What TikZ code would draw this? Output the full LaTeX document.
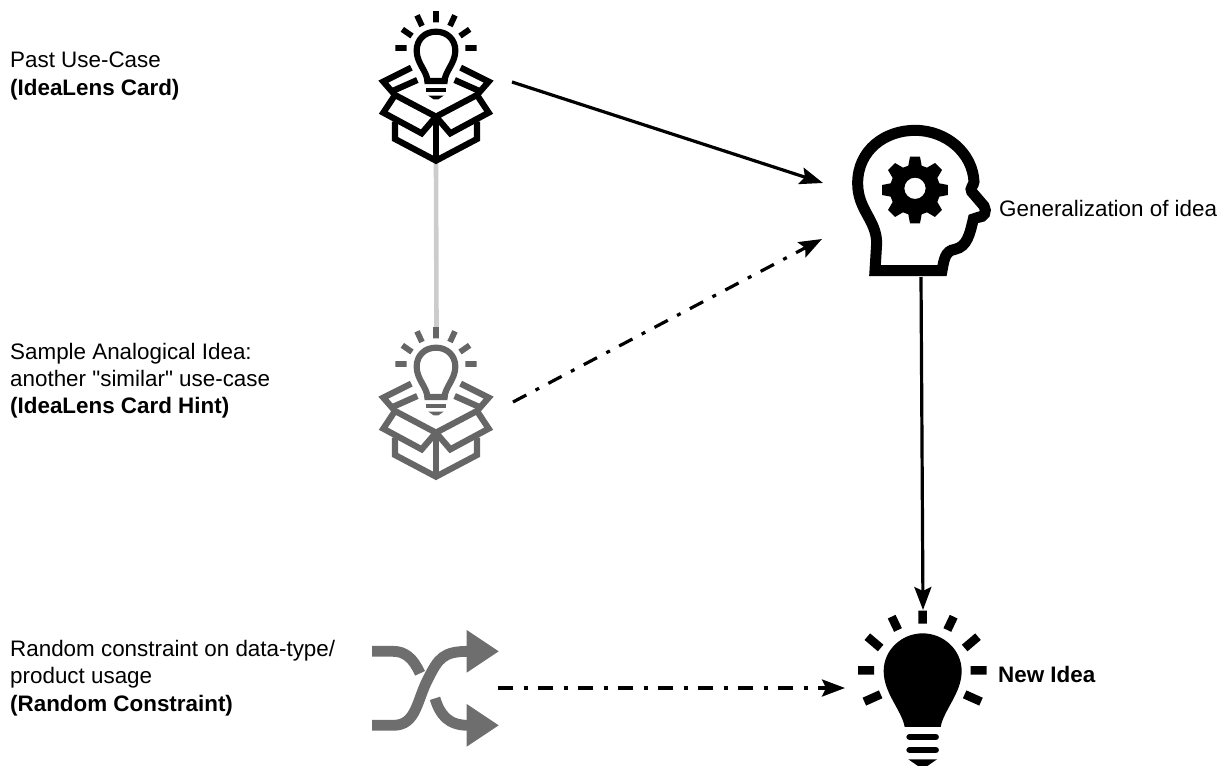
\documentclass[tikz,border=0pt]{standalone}
\usepackage{fontspec}
\setmainfont{Liberation Sans}[Ligatures=TeXOff]
\usetikzlibrary{arrows.meta}
\tikzset{
  x=1pt,y=-1pt,
  anchorbox/.style={inner sep=0pt,outer sep=0pt,minimum width=#1},
  label text/.style={anchor=west,inner sep=0pt,align=left,font=\fontsize{22.4}{27.2}\selectfont},
  flow/.style={line width=3.2pt,-{Stealth[length=23pt,width=17pt,inset=4pt]}},
  dashflow/.style={flow,dash pattern=on 15pt off 10.5pt on 4pt off 10.5pt},
  link/.style={line width=4.6pt,color=linkgrey},
  ray/.style={line width=5.8pt},
  pics/ideabox/.style={code={
    \begin{scope}[x=.3333pt,y=-.3333pt,color=#1,line width=6.2pt,miter limit=8]
      % rays
      \draw[ray] (288,33)--(288,67) (231,46)--(246,78) (345,46)--(330,78)
        (187,88)--(216,108) (389,88)--(360,108) (166,144)--(200,144) (376,144)--(410,144);
      % bulb
      \draw (262,243) .. controls (262,215) and (230,190) .. (230,152)
        .. controls (230,118) and (255,95) .. (288,95)
        .. controls (321,95) and (346,118) .. (346,152)
        .. controls (346,190) and (314,215) .. (314,243) -- cycle;
      \draw[line width=3.6pt] (258,270)--(318,270);
      \fill (265,287)--(311,287)--(295,298)--(281,298)--cycle;
      % box
      \draw (165,365)--(165,417)--(288,482)--(411,417)--(411,365);
      \draw (288,350)--(288,482);
      \draw[line join=miter] (288,350)--(165,285)--(130,338)--(245,400)--(288,350)
        --(411,285)--(446,338)--(331,400)--cycle;
      \draw[line join=miter] (214,203)--(130,245)--(165,285);
      \draw[line join=miter] (362,203)--(446,245)--(411,285);
      \draw (160,272)--(232,240) (416,272)--(344,240);
    \end{scope}
  }},
  pics/headgear/.style={code={
    \begin{scope}[x=.3333pt,y=-.3333pt]
      \draw[line width=11pt,line join=miter]
        (135,452) -- (140,370) .. controls (140,300) and (83,270) .. (83,190)
        .. controls (83,90) and (165,31) .. (255,31)
        .. controls (350,31) and (428,100) .. (432,185)
        .. controls (432,195) and (418,205) .. (425,215)
        -- (462,258) .. controls (472,275) and (462,292) .. (445,292)
        -- (430,297) .. controls (420,340) and (412,380) .. (375,388)
        .. controls (345,392) and (342,420) .. (336,452) -- cycle;
      \fill[even odd rule]
        (255,205) circle[radius=32]
        (255,205) ++(-15,-95) -- ++(30,0) -- ++(5,27) -- ++(16,6) -- ++(24,-14)
        -- ++(21,21) -- ++(-14,24) -- ++(6,16) -- ++(26,5) -- ++(0,30) -- ++(-26,5)
        -- ++(-6,16) -- ++(14,24) -- ++(-21,21) -- ++(-24,-14) -- ++(-16,6) -- ++(-5,27)
        -- ++(-30,0) -- ++(-5,-27) -- ++(-16,-6) -- ++(-24,14) -- ++(-21,-21) -- ++(14,-24)
        -- ++(-6,-16) -- ++(-26,-5) -- ++(0,-30) -- ++(26,-5) -- ++(6,-16) -- ++(-14,-24)
        -- ++(21,-21) -- ++(24,14) -- ++(16,-6) -- cycle;
    \end{scope}
  }},
  pics/newidea/.style={code={
    \begin{scope}[x=.3333pt,y=-.3333pt]
      \draw[line width=8.6pt] (248,62)--(248,101) (155,80)--(174,120) (341,80)--(322,120)
        (82,140)--(122,174) (414,140)--(374,174)
        (54,241)--(102,241) (392,241)--(440,241)
        (73,335)--(122,313) (423,335)--(374,313);
      \fill (194,411) .. controls (185,360) and (131,310) .. (131,243)
        .. controls (131,180) and (185,130) .. (248,130)
        .. controls (311,130) and (365,180) .. (365,243)
        .. controls (365,310) and (311,360) .. (302,411) -- cycle;
      \draw[line width=6.6pt,line cap=round] (209,441)--(287,441) (209,480)--(287,480);
      \fill (205,508)--(291,508)--(262,528)--(234,528)--cycle;
    \end{scope}
  }},
  pics/shufflemark/.style={code={
    \begin{scope}[x=.3333pt,y=-.3333pt,color=shufflegrey]
      \draw[line width=10.8pt] (36,316) -- (100,316)
        .. controls (170,316) and (170,240) .. (205,175)
        .. controls (235,115) and (250,94) .. (325,94);
      \draw[line width=10.8pt] (36,94) -- (100,94) .. controls (135,94) and (160,115) .. (180,160);
      \draw[line width=10.8pt] (225,235) .. controls (240,285) and (265,316) .. (325,316);
      \fill (320,30)--(416,94)--(320,158)--cycle;
      \fill (320,252)--(416,316)--(320,380)--cycle;
    \end{scope}
  }},
}
\definecolor{linkgrey}{HTML}{CCCCCC}
\definecolor{hintgrey}{HTML}{666666}
\definecolor{shufflegrey}{HTML}{6E6E6E}
\begin{document}
\begin{tikzpicture}
\useasboundingbox (0,0) rectangle (1226,766);
% anchors for the icons
\node[anchorbox=152pt,minimum height=162pt] (card) at (436,82) {};
\node[anchorbox=153pt,minimum height=150pt] (hint) at (436.5,402) {};
\node[anchorbox=150pt,minimum height=152pt] (head) at (921,201) {};
\node[anchorbox=156pt,minimum height=156pt] (bulb) at (923,688) {};
\node[anchorbox=126pt,minimum height=140pt] (shuffle) at (435,688) {};
\coordinate (headinA) at (823,183);
\coordinate (headinB) at (822,239);
% link behind the icons
\draw[link] (card.south) -- (hint.north);
% icons
\pic at (340,0) {ideabox=black};
\pic at (340,316) {ideabox=hintgrey};
\pic at (830,120) {headgear};
\pic at (840,590) {newidea};
\pic at (360,620) {shufflemark};
% connectors
\draw[flow] (card.east) -- (headinA);
\draw[dashflow] (hint.east) -- (headinB);
\draw[flow] (head.south) -- (bulb.north);
\draw[dashflow] (shuffle.east) -- (bulb.west);
% labels
\node[label text] (t1) at (10,76) {Past Use-Case\\\textbf{(IdeaLens Card)}};
\node[label text] (t2) at (10,380.5) {Sample Analogical Idea:\\another "similar" use-case\\\textbf{(IdeaLens Card Hint)}};
\node[label text] (t3) at (10,678) {Random constraint on data-type/\\product usage\\\textbf{(Random Constraint)}};
\node[label text] (t4) at (999,208) {Generalization of idea};
\node[label text] (t5) at (998,674) {\textbf{New Idea}};
\end{tikzpicture}
\end{document}
